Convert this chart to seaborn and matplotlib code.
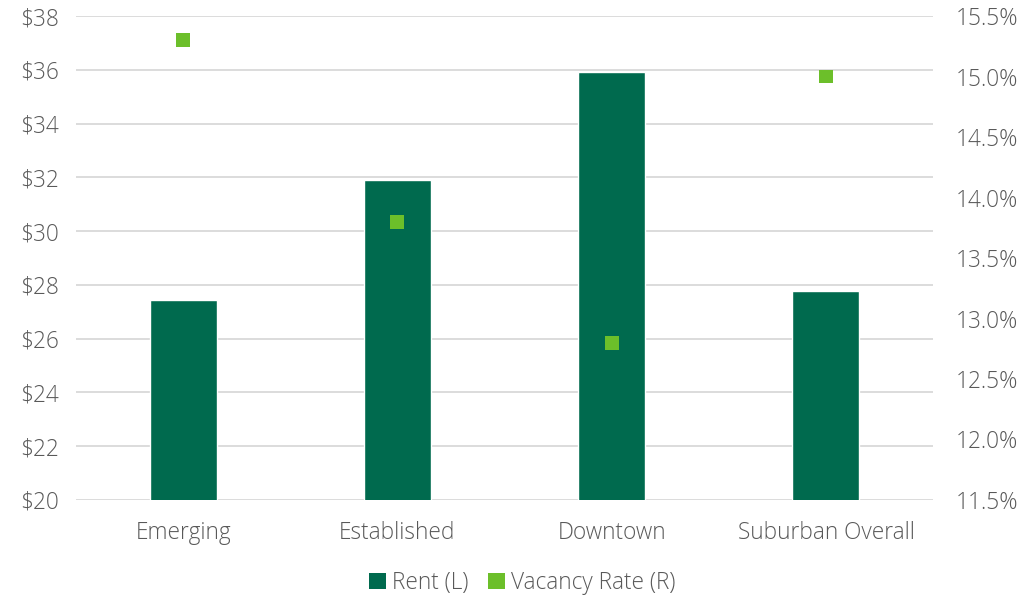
import matplotlib
matplotlib.use("Agg")
import matplotlib.pyplot as plt
import matplotlib.ticker as mticker
from matplotlib.patches import Patch
import seaborn as sns
import pandas as pd

categories = ["Emerging", "Established", "Downtown", "Suburban Overall"]
rent = [27.45, 31.9, 35.9, 27.77]
vacancy = [15.3, 13.8, 12.8, 15.0]

rent_ticks = [20, 22, 24, 26, 28, 30, 32, 34, 36, 38]
vac_ticks = [11.5, 12.0, 12.5, 13.0, 13.5, 14.0, 14.5, 15.0, 15.5]

BAR = "#006A4E"
DOT = "#6CBF2A"
TEXT = "#595959"
GRID = "#D9D9D9"
FS = 16.3

sns.set_theme(style="white")
plt.rcParams["font.family"] = ["Open Sans", "DejaVu Sans"]
plt.rcParams["font.weight"] = "light"

df = pd.DataFrame({"category": categories, "rent": rent, "vacancy": vacancy})

fig = plt.figure(figsize=(10.22, 5.98), dpi=100)
ax = fig.add_axes([0.0744, 0.1639, 0.8386, 0.8093])

sns.barplot(data=df, x="category", y="rent", color=BAR, width=0.313,
            saturation=1, ax=ax, zorder=3)
ax.set_ylim(20, 38)
ax.set_xlim(-0.5, len(categories) - 0.5)
ax.set_yticks(rent_ticks)
ax.yaxis.set_major_formatter(mticker.FuncFormatter(lambda v, p: f"${v:.0f}"))
ax.grid(axis="y", color=GRID, linewidth=1.3, zorder=0)
ax.set_axisbelow(True)
ax.set_xlabel("")
ax.set_ylabel("")
for s in ax.spines.values():
    s.set_visible(False)
ax.tick_params(axis="both", length=0, labelsize=FS, colors=TEXT)
ax.tick_params(axis="y", pad=12)
ax.tick_params(axis="x", pad=15)

ax2 = ax.twinx()
sns.scatterplot(data=df, x="category", y="vacancy", marker="s", s=100,
                color=DOT, edgecolor="none", ax=ax2, zorder=4)
ax2.set_ylim(11.5, 15.5)
ax2.set_yticks(vac_ticks)
ax2.yaxis.set_major_formatter(mticker.FuncFormatter(lambda v, p: f"{v:.1f}%"))
ax2.set_ylabel("")
for s in ax2.spines.values():
    s.set_visible(False)
ax2.tick_params(axis="y", length=0, labelsize=FS, colors=TEXT, pad=16)

handles = [
    Patch(facecolor=BAR, edgecolor="none"),
    Patch(facecolor=DOT, edgecolor="none"),
]
fig.legend(handles, ["Rent (L)", "Vacancy Rate (R)"], loc="center",
           bbox_to_anchor=(0.511, 0.025), ncol=2, frameon=False,
           fontsize=FS, labelcolor=TEXT, handlelength=0.75, handleheight=0.75,
           handletextpad=0.25, columnspacing=0.9)

fig.savefig("out.png", dpi=100)
